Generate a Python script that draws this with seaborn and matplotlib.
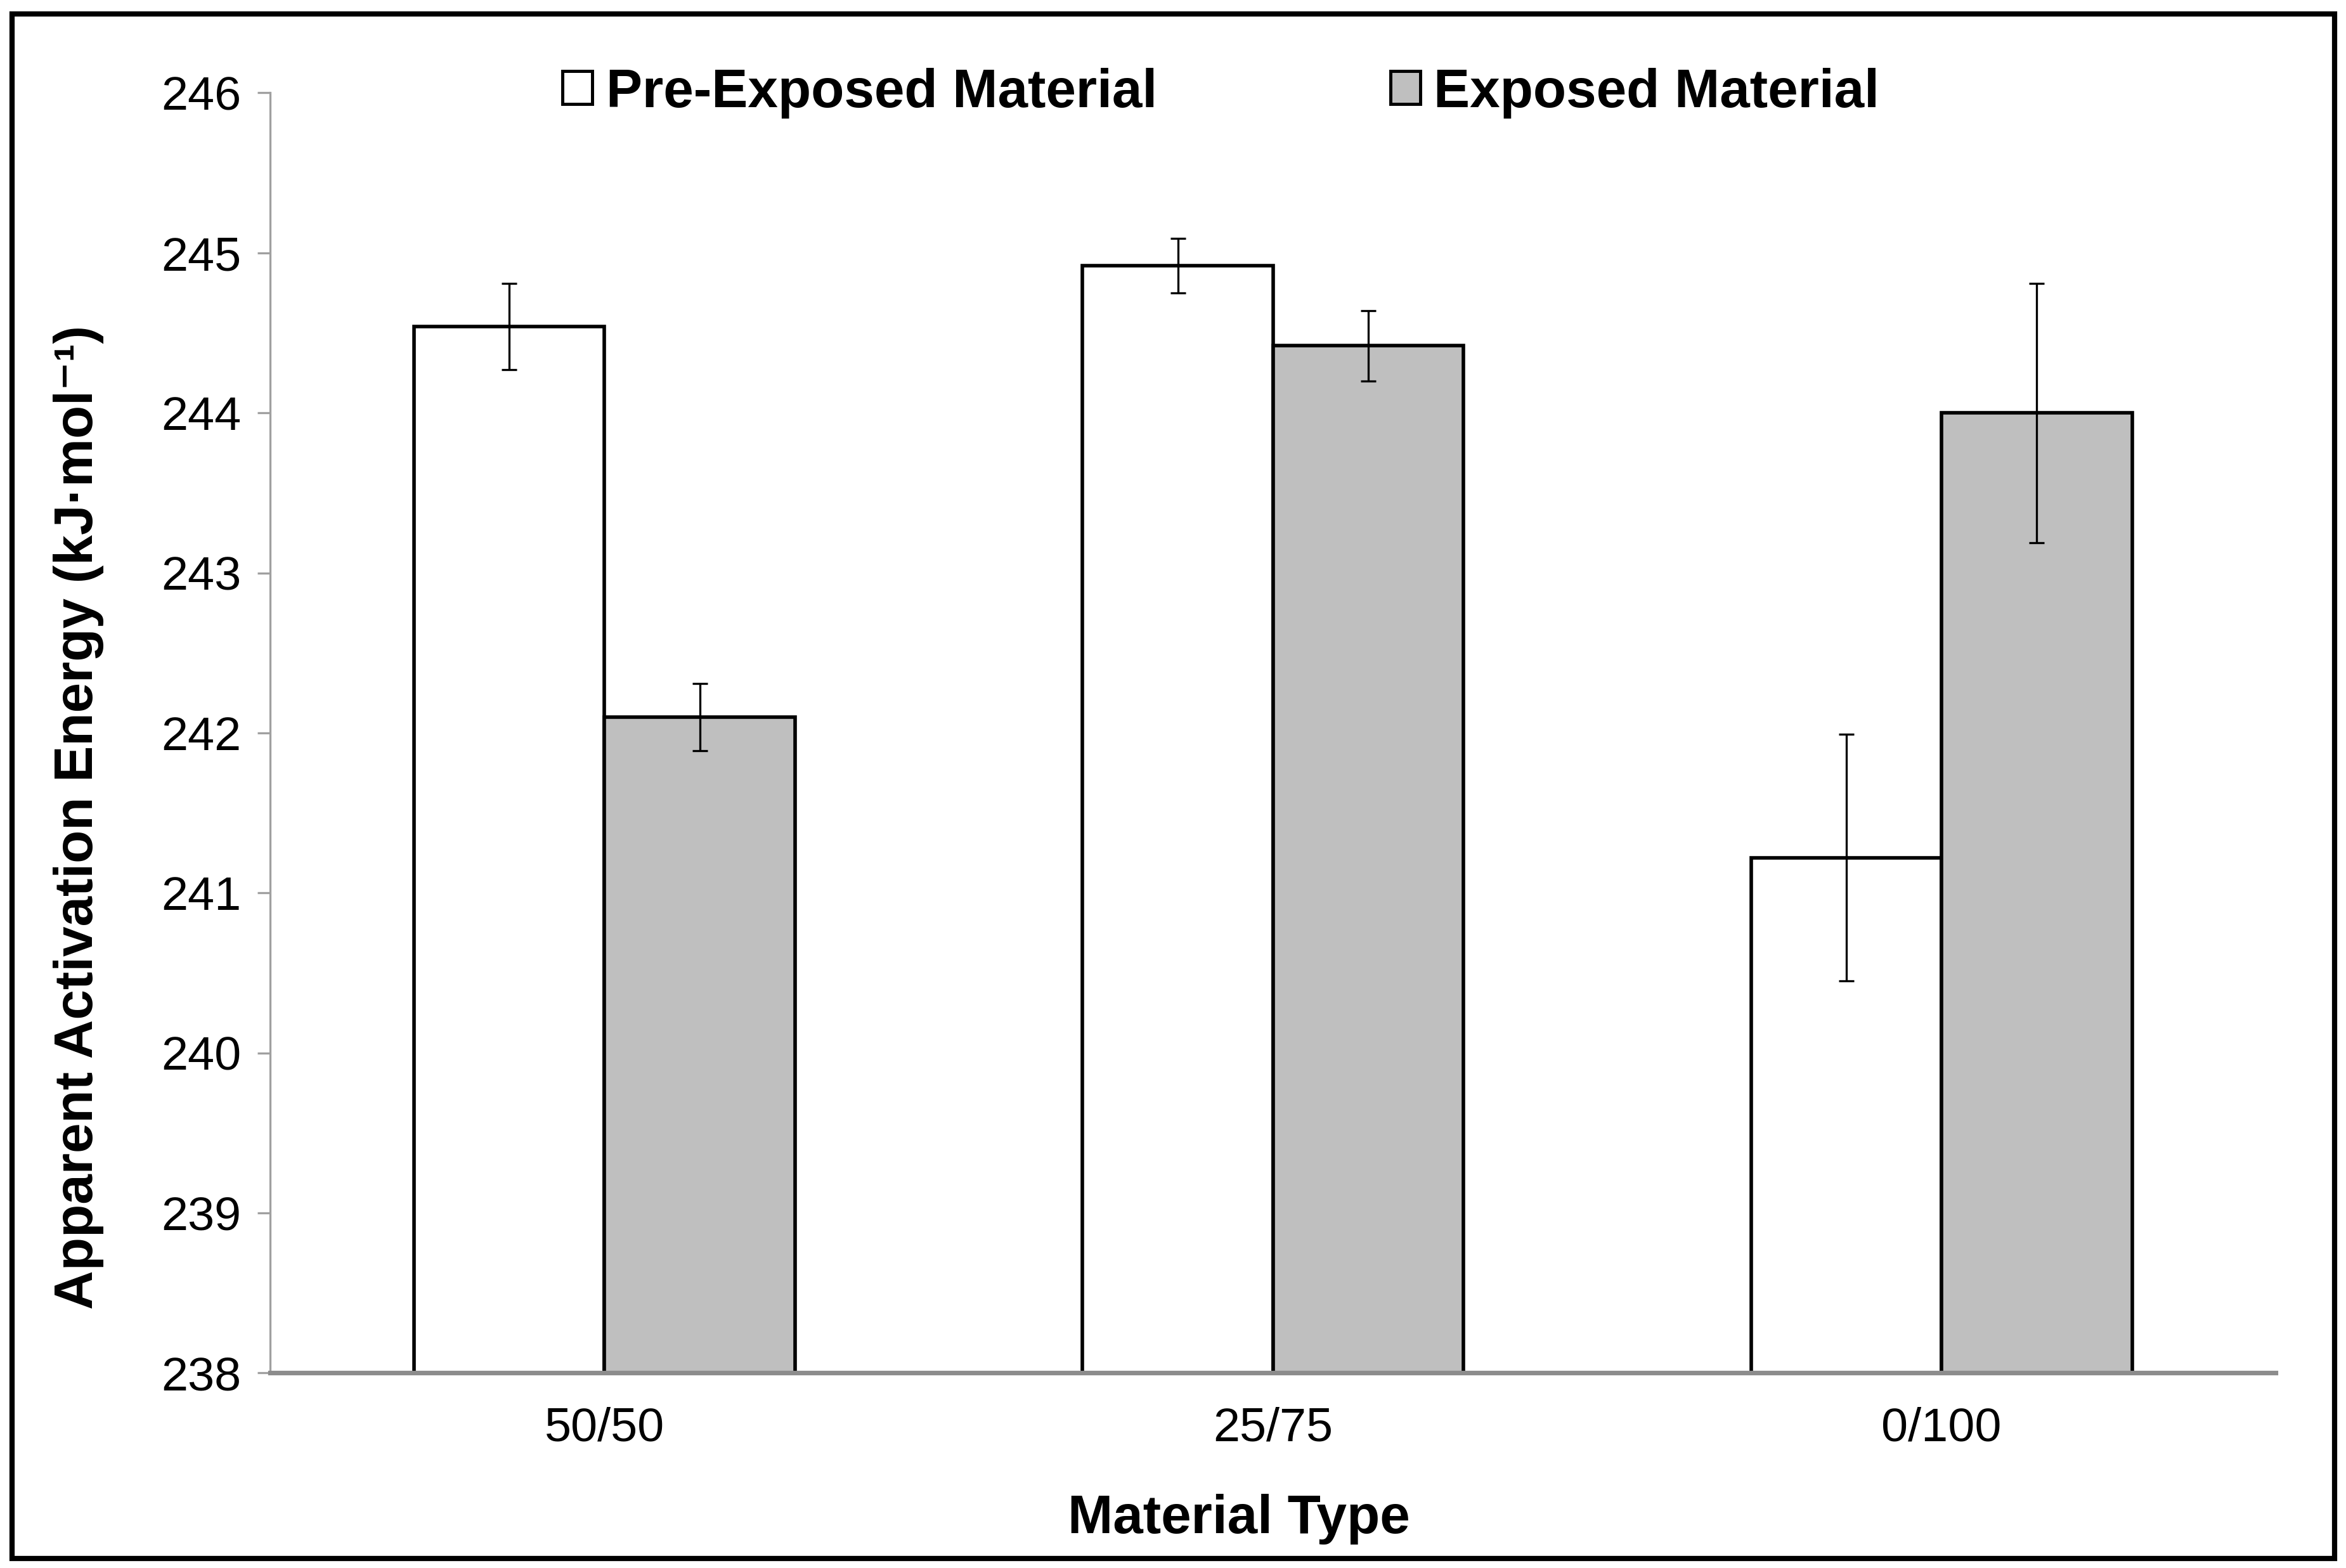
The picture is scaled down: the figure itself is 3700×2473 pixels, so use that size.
import pandas as pd
import matplotlib.pyplot as plt
import matplotlib.patches as mpatches
import seaborn as sns

# data
materials = ['50/50', '25/75', '0/100']
pre_exposed = [244.54, 244.92, 241.22]
pre_exposed_err = [0.27, 0.17, 0.77]
exposed = [242.10, 244.42, 244.00]
exposed_err = [0.21, 0.22, 0.81]
series = ['Pre-Exposed Material', 'Exposed Material']
colors = ['#ffffff', '#bfbfbf']

df = pd.DataFrame({
    'Material Type': materials * 2,
    'Energy': pre_exposed + exposed,
    'Series': [series[0]] * 3 + [series[1]] * 3,
})
errs = [pre_exposed_err, exposed_err]

sns.set_theme(style='white')
plt.rcParams['font.family'] = ['Liberation Sans', 'DejaVu Sans']
plt.rcParams['text.color'] = 'black'
plt.rcParams['axes.labelcolor'] = 'black'
plt.rcParams['xtick.color'] = 'black'
plt.rcParams['ytick.color'] = 'black'

fig = plt.figure(figsize=(15.62, 10.44), dpi=236.9)
ax = fig.add_axes([0.1152, 0.1244, 0.8548, 0.8163])

sns.barplot(data=df, x='Material Type', y='Energy', hue='Series',
            palette=colors, width=0.57, gap=0, errorbar=None,
            edgecolor='black', linewidth=1.7, ax=ax)
bar_conts = list(ax.containers)

# bars start from the bottom of the axis
ax.set_ylim(238, 246)
for cont in bar_conts:
    for b in cont:
        h = b.get_height()
        b.set_y(238)
        b.set_height(h - 238)

# error bars at the bar centres
for cont, err in zip(bar_conts, errs):
    xs = [b.get_x() + b.get_width() / 2 for b in cont]
    ys = [b.get_y() + b.get_height() for b in cont]
    ax.errorbar(xs, ys, yerr=err, fmt='none', ecolor='black',
                elinewidth=1.0, capsize=3.5, capthick=1.0, zorder=5)

ax.set_xlim(-0.5, 2.5)
ax.set_ylim(238, 246)
ax.set_yticks(range(238, 247))

ax.spines['top'].set_visible(False)
ax.spines['right'].set_visible(False)
ax.spines['left'].set_color('#a0a0a0')
ax.spines['left'].set_linewidth(1.0)
ax.spines['bottom'].set_color('#8c8c8c')
ax.spines['bottom'].set_linewidth(2.2)
ax.tick_params(axis='y', which='both', left=True, length=6, width=1.0,
               color='#a0a0a0', labelcolor='black', labelsize=23, pad=8)
ax.tick_params(axis='x', bottom=False, labelcolor='black', labelsize=23, pad=10)

ax.set_xlabel('Material Type', fontsize=26, fontweight='bold', labelpad=21)
ax.set_ylabel('Apparent Activation Energy (kJ·mol⁻¹)', fontsize=26,
              fontweight='bold', labelpad=22)
ax.yaxis.set_label_coords(-0.083, 0.434)
ax.xaxis.label.set_x(0.483)

handles = [mpatches.Patch(facecolor=c, edgecolor='black', linewidth=1.5) for c in colors]
ax.legend(handles, series, loc='center', bbox_to_anchor=(0.474, 1.0), ncol=2,
          frameon=False, prop={'size': 26, 'weight': 'bold'},
          handlelength=0.55, handleheight=0.55, handletextpad=0.25, columnspacing=4.3)

# outer frame around the whole figure
fig.patches.append(mpatches.Rectangle((0.005, 0.006), 0.990, 0.985, transform=fig.transFigure,
                                      fill=False, edgecolor='black', linewidth=2.5))

plt.savefig('out.png', dpi=236.9)
